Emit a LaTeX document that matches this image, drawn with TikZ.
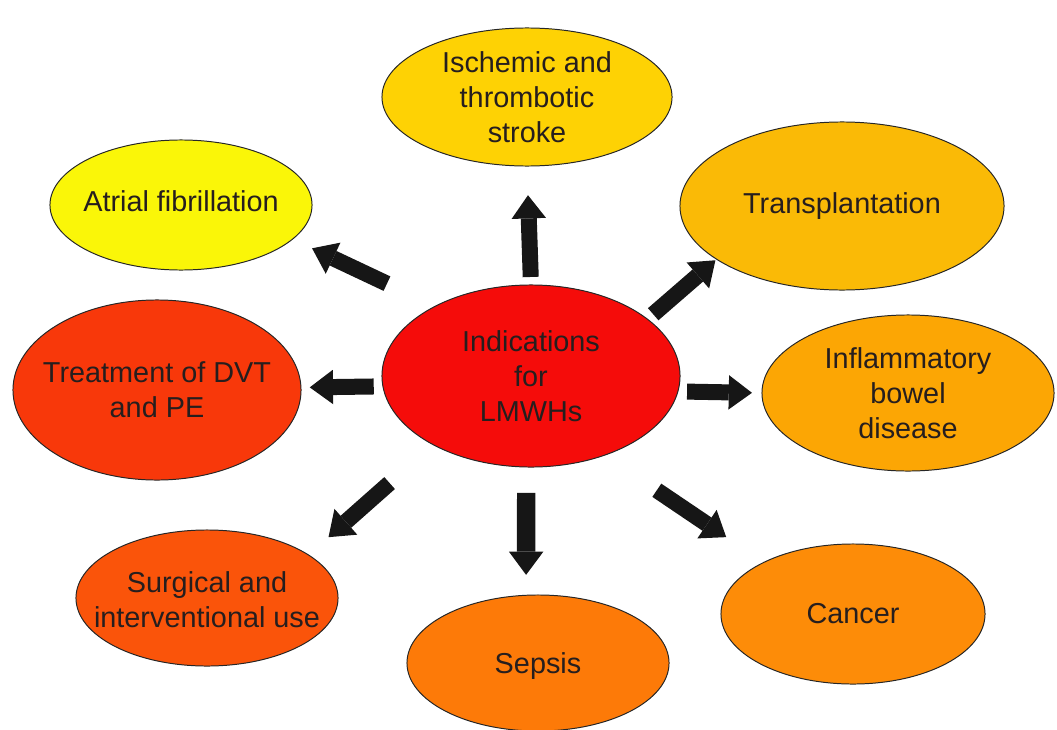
\documentclass[tikz,border=0pt]{standalone}
\usepackage{fontspec}
\setmainfont{Liberation Sans}
\usetikzlibrary{arrows.meta,shapes.geometric}

\definecolor{hubred}{RGB}{245,12,10}
\definecolor{strokeyel}{RGB}{254,210,4}
\definecolor{afibyel}{RGB}{250,246,8}
\definecolor{transorange}{RGB}{250,186,6}
\definecolor{ibdorange}{RGB}{252,166,4}
\definecolor{cancerorange}{RGB}{253,140,8}
\definecolor{sepsisorange}{RGB}{253,122,8}
\definecolor{surgred}{RGB}{250,84,10}
\definecolor{dvtred}{RGB}{248,56,10}
\definecolor{inkgray}{RGB}{38,30,30}
\definecolor{arrowblack}{RGB}{22,22,22}

\tikzset{
	bubble/.style={ellipse, draw=black!85, line width=0.7pt, outer sep=0pt, inner sep=0pt},
	caption/.style={align=center, text=inkgray, font=\fontsize{20.5}{24.8}\selectfont},
	fat/.style={draw=arrowblack, line width=0.4cm,
		-{Triangle[width=0.86cm,length=0.58cm,line width=0pt]}},
}

\begin{document}
\begin{tikzpicture}[x=0.025cm, y=-0.025cm]
	\useasboundingbox (0,0) rectangle (1057,729);

	% centre
	\node[bubble, fill=hubred, minimum width=7.45cm, minimum height=4.55cm] (hub) at (531,376) {};
	\node[caption] (hub-t) at (hub) {Indications\\for\\LMWHs};

	% stroke
	\node[bubble, fill=strokeyel, minimum width=7.25cm, minimum height=3.45cm] (isch) at (527,97) {};
	\node[caption] (isch-t) at (isch) {Ischemic and\\thrombotic\\stroke};

	% atrial fibrillation
	\node[bubble, fill=afibyel, minimum width=6.55cm, minimum height=3.25cm] (af) at (181,205) {};
	\node[caption, yshift=0.1cm] (af-t) at (af) {Atrial fibrillation};

	% transplantation
	\node[bubble, fill=transorange, minimum width=8.1cm, minimum height=4.2cm] (tr) at (842,206) {};
	\node[caption] (tr-t) at (tr) {Transplantation};

	% DVT and PE
	\node[bubble, fill=dvtred, minimum width=7.2cm, minimum height=4.5cm] (dvt) at (157,390) {};
	\node[caption] (dvt-t) at (dvt) {Treatment of DVT\\and PE};

	% bowel disease
	\node[bubble, fill=ibdorange, minimum width=7.3cm, minimum height=3.9cm] (ibd) at (908,393) {};
	\node[caption] (ibd-t) at (ibd) {Inflammatory\\bowel\\disease};

	% surgery
	\node[bubble, fill=surgred, minimum width=6.55cm, minimum height=3.4cm] (surg) at (207,598) {};
	\node[caption, yshift=-0.05cm] (surg-t) at (surg) {Surgical and\\interventional use};

	% sepsis
	\node[bubble, fill=sepsisorange, minimum width=6.55cm, minimum height=3.4cm] (seps) at (538,663) {};
	\node[caption, yshift=-0.08cm] (seps-t) at (seps) {Sepsis};

	% cancer
	\node[bubble, fill=cancerorange, minimum width=6.6cm, minimum height=3.5cm] (canc) at (853,614) {};
	\node[caption] (canc-t) at (canc) {Cancer};

	% arrows
	\draw[fat, shorten <=1.33cm, shorten >=0.54cm] (hub.144) -- (af.343);
	\draw[fat, shorten <=0.2cm, shorten >=0.73cm] (hub.90) -- (isch.270);
	\draw[fat, shorten <=0.19cm, shorten >=0.04cm] (hub.26) -- (tr.203);
	\draw[fat, shorten <=0.23cm, shorten >=0.22cm] (hub.184) -- (dvt.1);
	\draw[fat, shorten <=0.23cm, shorten >=0.25cm] (hub.354) -- (ibd.180);
	\draw[fat, shorten <=1.45cm, shorten >=0.67cm] (hub.215) -- (surg.23);
	\draw[fat, line width=0.46cm, shorten <=0.65cm, shorten >=0.51cm] (hub.267) -- (seps.100);
	\draw[fat, shorten <=1.57cm, shorten >=1.13cm] (hub.313) -- (canc.150);

\end{tikzpicture}
\end{document}
